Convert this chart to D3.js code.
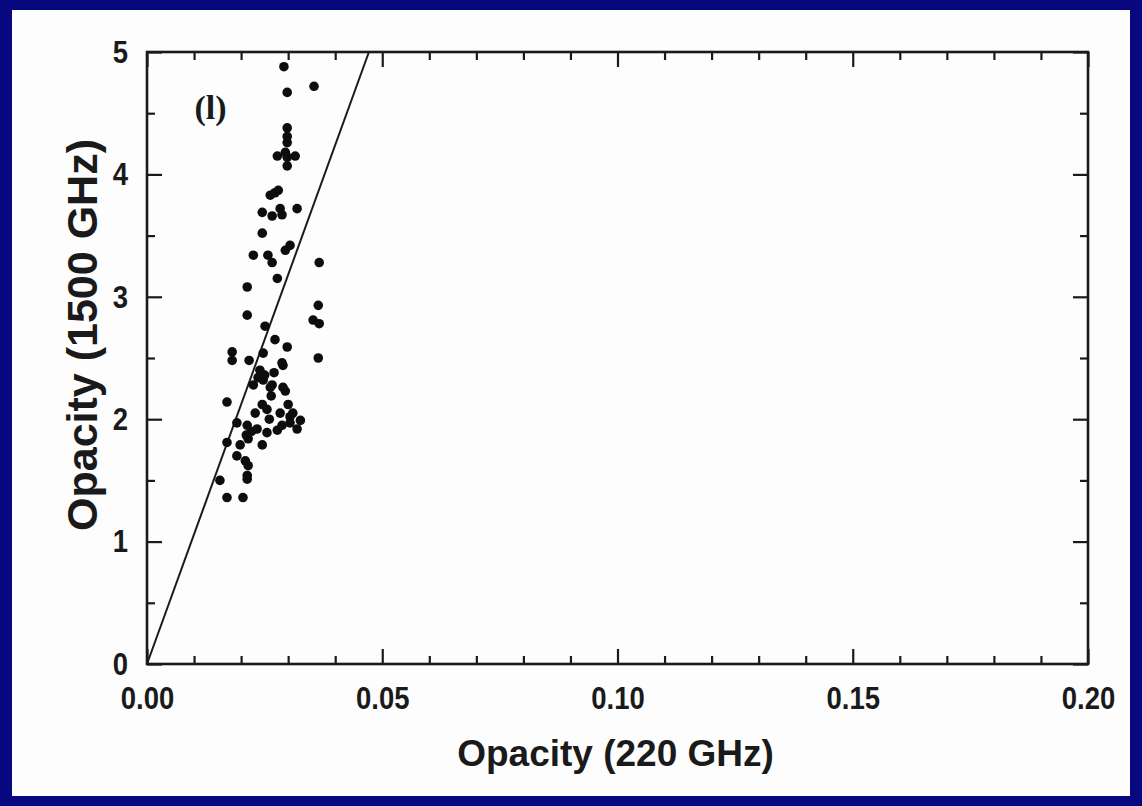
<!DOCTYPE html>
<html>
<head>
<meta charset="utf-8">
<script src="https://cdn.jsdelivr.net/npm/d3@7"></script>
<style>
  html, body { margin: 0; padding: 0; background: #07077f; }
  svg { display: block; }
</style>
</head>
<body>
<div id="chart"></div>
<script>
// opacity at 220 GHz vs opacity at 1500 GHz
var tau220 = [
  0.0291, 0.0298, 0.0355, 0.0298, 0.0298, 0.0298, 0.0294, 0.0277, 0.0315, 0.0298, 0.0298,
  0.0279, 0.0262, 0.0272,
  0.0245, 0.0266, 0.0283, 0.0287, 0.0319,
  0.0245,
  0.0226, 0.0257, 0.0266, 0.0294, 0.0304, 0.0366,
  0.0277, 0.0213,
  0.0364, 0.0213, 0.0353, 0.0366,
  0.0251, 0.0272, 0.0298,
  0.0181, 0.0181, 0.0247, 0.0217, 0.0364, 0.0287, 0.0289,
  0.0236, 0.0226, 0.0247, 0.0262, 0.0294, 0.0266, 0.0289, 0.0264,
  0.0170, 0.0245, 0.0255, 0.0300,
  0.0191, 0.0213, 0.0234, 0.0255, 0.0277, 0.0304, 0.0326, 0.0319, 0.0304, 0.0287,
  0.0170, 0.0198, 0.0215, 0.0245, 0.0211,
  0.0191, 0.0209, 0.0215,
  0.0155, 0.0213, 0.0213,
  0.0170, 0.0204,
  0.0230, 0.0260, 0.0283, 0.0240, 0.0270, 0.0310, 0.0222, 0.0250
];
var tau1500 = [
  4.88, 4.67, 4.72, 4.38, 4.31, 4.26, 4.18, 4.15, 4.15, 4.14, 4.07,
  3.87, 3.83, 3.85,
  3.69, 3.66, 3.72, 3.67, 3.72,
  3.52,
  3.34, 3.34, 3.28, 3.38, 3.42, 3.28,
  3.15, 3.08,
  2.93, 2.85, 2.81, 2.78,
  2.76, 2.65, 2.59,
  2.55, 2.48, 2.54, 2.48, 2.50, 2.46, 2.44,
  2.34, 2.28, 2.32, 2.26, 2.23, 2.28, 2.26, 2.19,
  2.14, 2.12, 2.08, 2.12,
  1.97, 1.95, 1.92, 1.89, 1.91, 1.97, 1.99, 1.92, 2.02, 1.95,
  1.81, 1.79, 1.84, 1.79, 1.87,
  1.70, 1.66, 1.62,
  1.50, 1.54, 1.51,
  1.36, 1.36,
  2.05, 2.00, 2.05, 2.40, 2.38, 2.05, 1.90, 2.36
];

var xMajor = [0, 0.05, 0.10, 0.15, 0.20];
var xMinor = [0.01, 0.02, 0.03, 0.04, 0.06, 0.07, 0.08, 0.09, 0.11, 0.12, 0.13, 0.14, 0.16, 0.17, 0.18, 0.19];
var yMajor = [0, 1, 2, 3, 4, 5];
var yMinor = [0.5, 1.5, 2.5, 3.5, 4.5];

var fitSlope = 106;   // tau1500 = fitSlope * tau220
var panelLabel = "(l)";
var xTitle = "Opacity (220 GHz)";
var yTitle = "Opacity (1500 GHz)";

var W = 1142, H = 806;
var margin = {top: 52, right: 54, bottom: 142, left: 147};
var width = W - margin.left - margin.right,
    height = H - margin.top - margin.bottom;

var svg = d3.select("#chart").append("svg")
    .attr("width", W)
    .attr("height", H);

// white sheet inside the navy frame
svg.append("rect")
    .attr("x", 12).attr("y", 10)
    .attr("width", 1118).attr("height", 786)
    .attr("fill", "#fdfdfd");

var g = svg.append("g")
    .attr("transform", "translate(" + margin.left + "," + margin.top + ")");

var x = d3.scaleLinear().domain([0, 0.2]).range([0, width]);
var y = d3.scaleLinear().domain([0, 5]).range([height, 0]);

var font = "'Liberation Sans', Arial, Helvetica, sans-serif";

function styleAxis(sel) {
    sel.select(".domain").remove();
    sel.selectAll(".tick line").attr("stroke", "#1a1a1a").attr("stroke-width", 2.2);
    // the scan's numerals are a condensed bold face: squeeze them a bit
    sel.selectAll("text")
        .attr("fill", "#1a1a1a")
        .attr("transform", "scale(0.86,1)")
        .style("font-family", font)
        .style("font-weight", "bold")
        .style("font-size", "32px");
}

// bottom
g.append("g").attr("transform", "translate(0," + height + ")")
    .call(d3.axisBottom(x).tickValues(xMajor).tickFormat(d3.format(".2f"))
        .tickSizeInner(-15).tickSizeOuter(0).tickPadding(22))
    .call(styleAxis);
g.append("g").attr("transform", "translate(0," + height + ")")
    .call(d3.axisBottom(x).tickValues(xMinor).tickFormat("").tickSizeInner(-8).tickSizeOuter(0))
    .call(styleAxis);
// top
g.append("g")
    .call(d3.axisTop(x).tickValues(xMajor).tickFormat("").tickSizeInner(-15).tickSizeOuter(0))
    .call(styleAxis);
g.append("g")
    .call(d3.axisTop(x).tickValues(xMinor).tickFormat("").tickSizeInner(-8).tickSizeOuter(0))
    .call(styleAxis);
// left
g.append("g")
    .call(d3.axisLeft(y).tickValues(yMajor).tickFormat(d3.format("d"))
        .tickSizeInner(-15).tickSizeOuter(0).tickPadding(22))
    .call(styleAxis);
g.append("g")
    .call(d3.axisLeft(y).tickValues(yMinor).tickFormat("").tickSizeInner(-8).tickSizeOuter(0))
    .call(styleAxis);
// right
g.append("g").attr("transform", "translate(" + width + ",0)")
    .call(d3.axisRight(y).tickValues(yMajor).tickFormat("").tickSizeInner(-15).tickSizeOuter(0))
    .call(styleAxis);
g.append("g").attr("transform", "translate(" + width + ",0)")
    .call(d3.axisRight(y).tickValues(yMinor).tickFormat("").tickSizeInner(-8).tickSizeOuter(0))
    .call(styleAxis);

// frame
g.append("rect")
    .attr("width", width).attr("height", height)
    .attr("fill", "none")
    .attr("stroke", "#1a1a1a")
    .attr("stroke-width", 2.6);

// fit line through the origin
var lineData = [[0, 0], [5 / fitSlope, 5]];
g.append("path")
    .datum(lineData)
    .attr("fill", "none")
    .attr("stroke", "#1a1a1a")
    .attr("stroke-width", 2)
    .attr("d", d3.line().x(function (d) { return x(d[0]); }).y(function (d) { return y(d[1]); }));

// points
var pts = tau220.map(function (v, i) { return [v, tau1500[i]]; });
g.selectAll(".dot")
    .data(pts)
    .enter().append("circle")
    .attr("class", "dot")
    .attr("cx", function (d) { return x(d[0]); })
    .attr("cy", function (d) { return y(d[1]); })
    .attr("r", 4.8)
    .attr("fill", "#0d0d0d");

// panel label
g.append("text")
    .attr("x", x(0.0135)).attr("y", y(4.45))
    .attr("text-anchor", "middle")
    .style("font-family", "'Liberation Serif', 'Times New Roman', serif")
    .style("font-weight", "bold")
    .style("font-size", "34px")
    .attr("fill", "#1a1a1a")
    .text(panelLabel);

// axis titles
svg.append("text")
    .attr("x", margin.left + width / 2 - 2)
    .attr("y", 766)
    .attr("text-anchor", "middle")
    .style("font-family", font)
    .style("font-weight", "bold")
    .style("font-size", "37px")
    .attr("fill", "#1a1a1a")
    .text(xTitle);

svg.append("text")
    .attr("transform", "translate(97," + 335 + ") rotate(-90)")
    .attr("text-anchor", "middle")
    .style("font-family", font)
    .style("font-weight", "bold")
    .style("font-size", "43px")
    .attr("fill", "#1a1a1a")
    .text(yTitle);
</script>
</body>
</html>
